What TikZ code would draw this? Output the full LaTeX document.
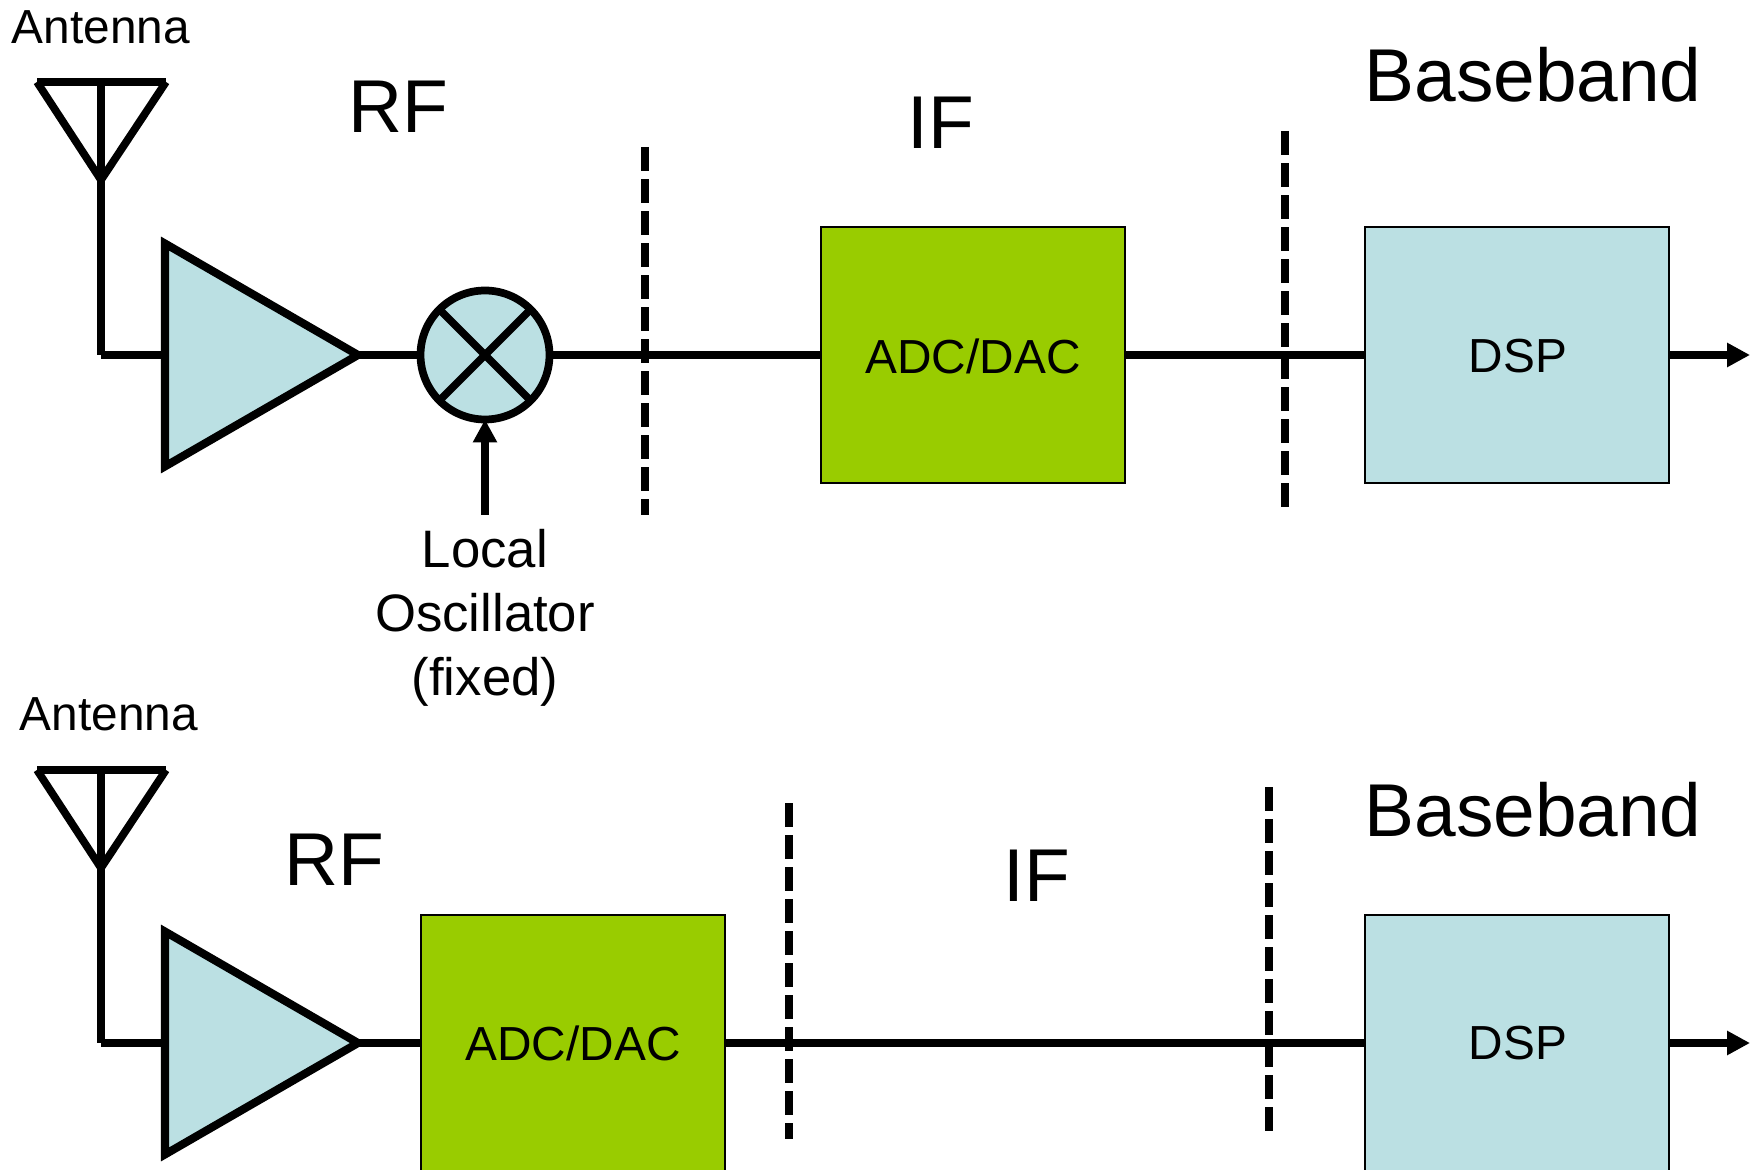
\documentclass[tikz,border=0pt]{standalone}
\usepackage{fontspec}
\setmainfont{Liberation Sans}
\usetikzlibrary{arrows.meta,shapes.geometric}
\definecolor{ampblue}{rgb}{0.733,0.878,0.890}
\definecolor{adcgreen}{rgb}{0.6,0.8,0}
\tikzset{
    wire/.style={line width=2.2pt},
    cut/.style={line width=2.2pt,dash pattern=on 6.83pt off 2.28pt},
    tip/.style={line width=2.2pt,-{Triangle[length=0.23cm,width=0.23cm]}},
    amp/.style={draw,line width=2.3pt,fill=ampblue,isosceles triangle,isosceles triangle apex angle=60,
        minimum height=1.93cm,inner sep=0pt,outer sep=0pt,anchor=lower side},
    mixer/.style={draw,line width=2.2pt,fill=ampblue,circle,minimum size=1.29cm,inner sep=0pt,outer sep=0pt},
    block/.style={draw,line width=0.6pt,minimum width=3.04cm,minimum height=2.56cm,inner sep=0pt,outer sep=0pt},
    big/.style={font=\fontsize{21.3}{25}\selectfont,anchor=base},
    small/.style={font=\fontsize{13.6}{16}\selectfont},
}

\begin{document}
\begin{tikzpicture}
        \useasboundingbox (0,0) rectangle (17.56,11.69);
        \clip (0,0) rectangle (17.56,11.69);

        % top chain
        \coordinate (antAleft) at (0.37,10.87);
        \coordinate (antAright) at (1.66,10.87);
        \coordinate (antAtop) at (1.01,10.87);
        \coordinate (antAtip) at (1.01,9.89);
        \coordinate (antAfoot) at (1.01,8.14);
        \node[amp] (ampA) at (1.65,8.14) {};
        \node[mixer] (mixA) at (4.85,8.14) {};
        \node[block,fill=adcgreen] (adcA) at (9.73,8.14) {};
        \node[block,fill=ampblue] (dspA) at (15.17,8.14) {};
        \coordinate (outA) at (17.50,8.14);
        \coordinate (loA) at (4.85,6.54);
        \coordinate (cutAatop) at (6.45,10.22);
        \coordinate (cutAabot) at (6.45,6.54);
        \coordinate (cutAbtop) at (12.85,10.38);
        \coordinate (cutAbbot) at (12.85,6.62);

        % text
        \node[small,anchor=base] (antAtext) at (1.01,11.25) {Antenna};
        \node[big] (rfA) at (3.98,10.36) {RF};
        \node[big] (ifA) at (9.41,10.20) {IF};
        \node[big] (bbA) at (15.33,10.67) {Baseband};
        \node[small] (adcAtext) at ([yshift=-0.01cm]adcA) {ADC/DAC};
        \node[small] (dspAtext) at ([xshift=0.01cm,yshift=-0.01cm]dspA) {DSP};
        \node[font=\fontsize{15}{18.2}\selectfont,align=center,anchor=north] (loAtext) at (4.85,6.52) {Local\\Oscillator\\(fixed)};

        % antenna
        \draw[wire] (antAleft) -- (antAright);
        \draw[wire] (antAleft) -- (antAtip) -- (antAright);
        \draw[wire] (antAtop) -- (antAfoot);
        \draw[wire] (antAfoot) -- (ampA.lower side);

        % signal path
        \draw[wire] (ampA.apex) -- (mixA);
        \draw[wire] (mixA) -- (adcA);
        \draw[wire] (adcA) -- (dspA);
        \draw[tip] (dspA) -- (outA);
        \draw[wire] (mixA.north west) -- (mixA.south east);
        \draw[wire] (mixA.north east) -- (mixA.south west);
        \draw[tip] (loA) -- (mixA);
        \draw[cut] (cutAatop) -- (cutAabot);
        \draw[cut] (cutAbtop) -- (cutAbbot);

        % bottom chain
        \coordinate (antBleft) at (0.37,3.99);
        \coordinate (antBright) at (1.66,3.99);
        \coordinate (antBtop) at (1.01,3.99);
        \coordinate (antBtip) at (1.01,3.01);
        \coordinate (antBfoot) at (1.01,1.26);
        \node[amp] (ampB) at (1.65,1.26) {};
        \node[block,fill=adcgreen] (adcB) at (5.73,1.26) {};
        \node[block,fill=ampblue] (dspB) at (15.17,1.26) {};
        \coordinate (outB) at (17.50,1.26);
        \coordinate (cutBatop) at (7.89,3.66);
        \coordinate (cutBabot) at (7.89,0.30);
        \coordinate (cutBbtop) at (12.69,3.82);
        \coordinate (cutBbbot) at (12.69,0.38);

        % text
        \node[small,anchor=base] (antBtext) at (1.09,4.38) {Antenna};
        \node[big] (rfB) at (3.34,2.84) {RF};
        \node[big] (ifB) at (10.37,2.68) {IF};
        \node[big] (bbB) at (15.33,3.32) {Baseband};
        \node[small] (adcBtext) at (adcB) {ADC/DAC};
        \node[small] (dspBtext) at ([xshift=0.01cm]dspB) {DSP};

        % antenna
        \draw[wire] (antBleft) -- (antBright);
        \draw[wire] (antBleft) -- (antBtip) -- (antBright);
        \draw[wire] (antBtop) -- (antBfoot);
        \draw[wire] (antBfoot) -- (ampB.lower side);

        % signal path
        \draw[wire] (ampB.apex) -- (adcB);
        \draw[wire] (adcB) -- (dspB);
        \draw[tip] (dspB) -- (outB);
        \draw[cut] (cutBatop) -- (cutBabot);
        \draw[cut] (cutBbtop) -- (cutBbbot);
\end{tikzpicture}
\end{document}
